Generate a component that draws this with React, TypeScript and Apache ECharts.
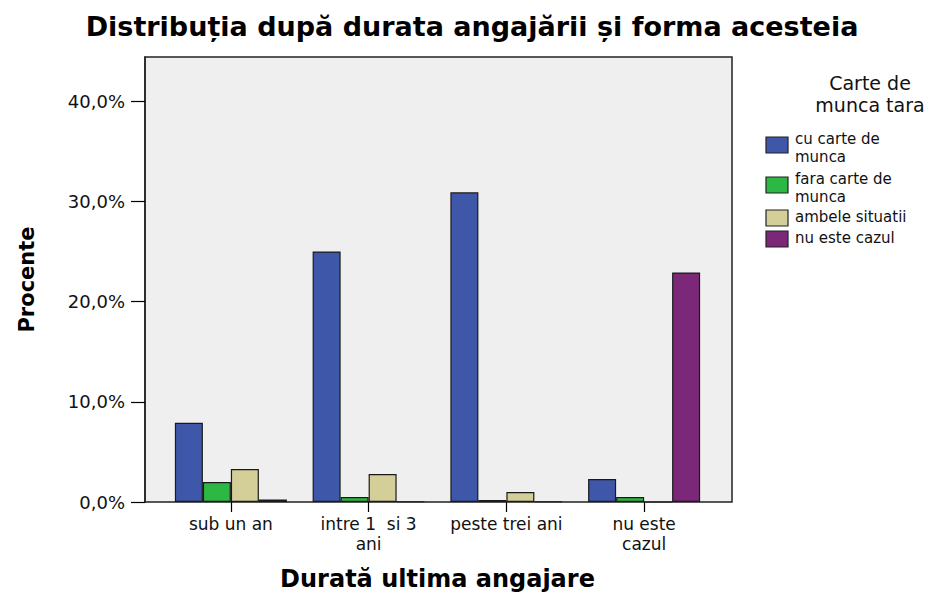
import React, { useEffect, useRef } from "react";
import * as echarts from "echarts";

const categories = ["sub un an", "intre 1 si 3 ani", "peste trei ani", "nu este cazul"];
const categoryLabels: Record<string, string> = {
  "sub un an": "sub un an",
  "intre 1 si 3 ani": "intre 1  si 3\nani",
  "peste trei ani": "peste trei ani",
  "nu este cazul": "nu este\ncazul",
};
const seriesNames = ["cu carte de munca", "fara carte de munca", "ambele situatii", "nu este cazul"];
const legendLabels = ["cu carte de\nmunca", "fara carte de\nmunca", "ambele situatii", "nu este cazul"];
const cuCarte = [7.9, 25.0, 30.9, 2.3];
const faraCarte = [2.0, 0.5, 0.2, 0.5];
const ambele = [3.3, 2.8, 1.0, 0];
const nuEste = [0.25, 0.05, 0.05, 22.9];
const yTicks = [0, 10, 20, 30, 40];
const colors = ["#3F57A8", "#2DB845", "#D4CF98", "#7B2878"];

const FONT = "DejaVu Sans";

export default function App() {
  const ref = useRef<HTMLDivElement>(null);
  useEffect(() => {
    if (!ref.current) return;
    const chart = echarts.init(ref.current, null, { renderer: "svg" });
    const values = [cuCarte, faraCarte, ambele, nuEste];

    const legendGraphics: any[] = [];
    const swatchY = [137, 177, 210, 231];
    const textY = [130, 170, 208, 229];
    legendLabels.forEach((lab, i) => {
      legendGraphics.push({
        type: "rect",
        shape: { x: 766, y: swatchY[i], width: 22, height: 16 },
        style: { fill: colors[i], stroke: "#222", lineWidth: 1.2 },
      });
      legendGraphics.push({
        type: "text",
        x: 795,
        y: textY[i],
        style: {
          text: lab,
          font: `15px '${FONT}'`,
          fill: "#111",
          lineHeight: 18,
          verticalAlign: "top",
        },
      });
    });

    const option: any = {
      animation: false,
      backgroundColor: "#ffffff",
      title: {
        text: "Distribuția după durata angajării și forma acesteia",
        left: "center",
        top: 8,
        textStyle: { fontFamily: FONT, fontWeight: "bold", fontSize: 27, color: "#000" },
      },
      grid: { left: 162, right: 231, top: 57, bottom: 92, outerBoundsMode: "none", containLabel: false },
      graphic: [
        {
          type: "rect",
          z: -10,
          silent: true,
          shape: { x: 145, y: 57, width: 587, height: 445 },
          style: { fill: "#EFEFEF", stroke: "#222", lineWidth: 1.5 },
        },
        {
          type: "text",
          x: 870,
          y: 72,
          style: {
            text: "Carte de\nmunca tara",
            font: `19px '${FONT}'`,
            fill: "#111",
            align: "center",
            verticalAlign: "top",
            lineHeight: 22,
          },
        },
        ...legendGraphics,
      ],
      xAxis: {
        type: "category",
        data: categories,
        name: "Durată ultima angajare",
        nameLocation: "middle",
        nameGap: 65,
        nameTextStyle: { fontFamily: FONT, fontWeight: "bold", fontSize: 24, color: "#000" },
        axisLine: { show: false },
        axisTick: { show: true, alignWithLabel: true, length: 10, lineStyle: { color: "#000", width: 1.2 } },
        axisLabel: {
          interval: 0,
          margin: 12,
          fontFamily: FONT,
          fontSize: 17,
          lineHeight: 20,
          color: "#111",
          formatter: (v: string) => categoryLabels[v] ?? v,
        },
      },
      yAxis: {
        type: "value",
        min: 0,
        max: 44.4,
        offset: 17,
        name: "Procente",
        nameLocation: "middle",
        nameGap: 108,
        nameTextStyle: { fontFamily: FONT, fontWeight: "bold", fontSize: 21, color: "#000" },
        splitLine: { show: false },
        axisLine: { show: true, lineStyle: { color: "#222", width: 1.5 } },
        axisTick: { show: true, length: 14, customValues: yTicks, lineStyle: { color: "#000", width: 1.2 } },
        axisLabel: {
          customValues: yTicks,
          margin: 20,
          fontFamily: FONT,
          fontSize: 18,
          color: "#111",
          formatter: (v: number) => v.toFixed(1).replace(".", ",") + "%",
        },
      },
      series: seriesNames.map((n, i) => ({
        name: n,
        type: "bar",
        data: values[i],
        barWidth: 28,
        barGap: "0%",
        itemStyle: { color: colors[i], borderColor: "#1a1a1a", borderWidth: 1.2 },
      })),
    };
    chart.setOption(option);
    return () => chart.dispose();
  }, []);
  return (
    <div
      ref={ref}
      style={{ position: "fixed", left: 0, top: 0, width: 944, height: 594 }}
    />
  );
}
